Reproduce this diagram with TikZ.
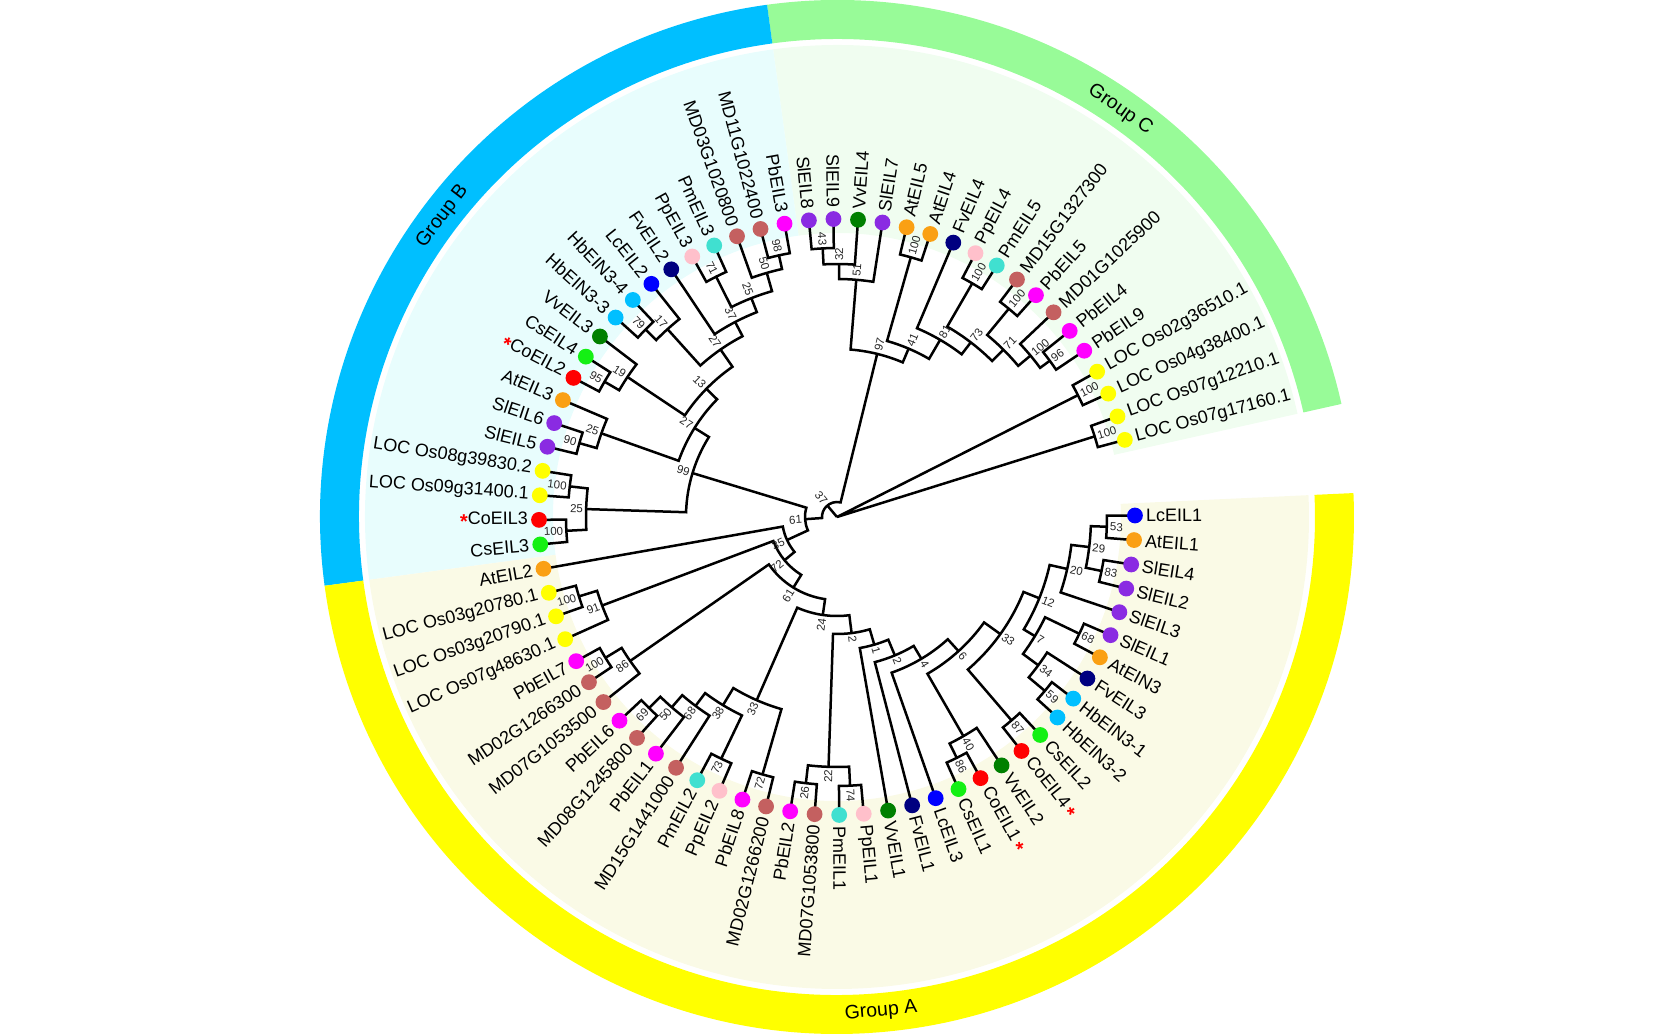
\documentclass[tikz,border=0pt]{standalone}
\usepackage{fontspec}
\setmainfont{Liberation Sans}
\definecolor{cPb}{RGB}{255,0,255}
\definecolor{cMD}{RGB}{196,96,96}
\definecolor{cSl}{RGB}{138,43,226}
\definecolor{cVv}{RGB}{0,128,0}
\definecolor{cAt}{RGB}{250,160,20}
\definecolor{cFv}{RGB}{0,0,128}
\definecolor{cPp}{RGB}{255,192,203}
\definecolor{cPm}{RGB}{64,224,208}
\definecolor{cOs}{RGB}{255,255,0}
\definecolor{cLc}{RGB}{0,0,255}
\definecolor{cHb}{RGB}{0,191,255}
\definecolor{cCs}{RGB}{20,240,20}
\definecolor{cCo}{RGB}{255,0,0}
\definecolor{ringA}{RGB}{255,255,0}
\definecolor{ringB}{RGB}{0,191,255}
\definecolor{ringC}{RGB}{152,251,152}
\definecolor{fillA}{RGB}{250,250,230}
\definecolor{fillB}{RGB}{232,253,253}
\definecolor{fillC}{RGB}{240,253,240}
\newcounter{bsc}
\newcommand\redast{\raisebox{-4pt}{\color{red}\fontsize{20}{20}\selectfont\bfseries *}}
\newcommand\leaf[4]{%
  \node[dot,fill=#3] (d#1) at (#2:298pt) {};
  \pgfmathtruncatemacro\lflip{(#2>90)&&(#2<270)}%
  \ifnum\lflip=1
    \node[lab,anchor=east,rotate=#2+180] (#1) at (#2:309pt) {#4};
  \else
    \node[lab,anchor=west,rotate=#2] (#1) at (#2:309pt) {#4};
  \fi}
\newcommand\bs[3]{%
  \stepcounter{bsc}%
  \pgfmathtruncatemacro\bflip{(#1>90)&&(#1<270)}%
  \pgfmathsetmacro\brad{#2+2.5}%
  \ifnum\bflip=1
    \node[bsl,anchor=east,rotate=#1+180] (b\arabic{bsc}) at (#1:\brad pt) {#3};
  \else
    \node[bsl,anchor=west,rotate=#1] (b\arabic{bsc}) at (#1:\brad pt) {#3};
  \fi}
\newcommand\clade[6]{%
  \draw[br] (#2:#3pt) -- (#2:#1pt) arc[start angle=#2,end angle=#4,radius=#1pt] -- (#4:#5pt);
  \pgfmathsetmacro\cmid{(#2+#4)/2}%
  \bs{\cmid}{#1}{#6}}
\newcommand\sector[5]{% color, a1, a2, rin, rout
  \fill[#1] (#2:#4pt) arc[start angle=#2,end angle=#3,radius=#4pt] -- (#3:#5pt) arc[start angle=#3,end angle=#2,radius=#5pt] -- cycle;}
\begin{document}
\begin{tikzpicture}[x=1pt,y=1pt,
  br/.style={line width=2.5pt,line join=miter,line cap=butt},
  lab/.style={inner sep=0pt,font=\fontsize{18}{18}\selectfont},
  bsl/.style={inner sep=0.5pt,font=\fontsize{11.5}{11.5}\selectfont,text=black!85},
  grp/.style={inner sep=0pt,font=\fontsize{19.5}{19.5}\selectfont},
  dot/.style={circle,inner sep=0pt,minimum size=15.8pt}]
\useasboundingbox (-837,-517) rectangle (837,517);
% background sectors
\sector{fillC}{12.635}{97.775}{284}{472}
\sector{fillB}{97.775}{187.645}{284}{472}
\sector{fillA}{187.645}{362.655}{284}{472}
\sector{ringC}{12.635}{97.775}{478}{517}
\sector{ringB}{97.775}{187.645}{478}{517}
\sector{ringA}{187.645}{362.655}{478}{517}
\node[grp,rotate=-34.8] (gC) at (55.2:496pt) {Group C};
\node[grp,rotate=52.7] (gB) at (142.7:496pt) {Group B};
\node[grp,rotate=5.1] (gA) at (275.1:496pt) {Group A};
% root
\draw[br] (17.37:270pt) -- (0,0) -- (26.83:270pt);
\draw[br] (0,0) -- (130.04:15pt);
\clade{270}{19.73}{298}{15.0}{298}{100}
\clade{270}{29.19}{298}{24.46}{298}{100}
\clade{15}{76.16}{168}{183.92}{32}{37}
% group C
\clade{264}{38.65}{298}{33.92}{298}{96}
\clade{252}{43.38}{298}{36.29}{264}{100}
\clade{270}{52.84}{298}{48.11}{298}{100}
\clade{236}{50.48}{270}{39.83}{252}{71}
\clade{270}{62.30}{298}{57.57}{298}{100}
\clade{220}{59.93}{270}{45.15}{236}{73}
\clade{205}{67.03}{298}{52.54}{220}{81}
\clade{270}{76.49}{298}{71.76}{298}{100}
\clade{183}{74.13}{270}{59.79}{205}{41}
\clade{269}{95.41}{298}{90.68}{298}{43}
\clade{253}{93.05}{269}{85.95}{298}{32}
\clade{238}{89.5}{253}{81.22}{298}{51}
\clade{168}{85.36}{238}{66.96}{183}{97}
% group B
\clade{268}{100.14}{298}{104.87}{298}{98}
\clade{254}{102.5}{268}{109.60}{298}{50}
\clade{269}{114.33}{298}{119.06}{298}{71}
\clade{235}{106.05}{254}{116.7}{269}{25}
\clade{220}{111.37}{235}{123.79}{298}{37}
\clade{268}{133.25}{298}{137.98}{298}{79}
\clade{253}{128.52}{298}{135.6}{268}{17}
\clade{204}{117.58}{220}{132.06}{253}{27}
\clade{269}{147.44}{298}{152.17}{298}{95}
\clade{252}{142.71}{298}{149.8}{269}{19}
\clade{183}{124.82}{204}{146.26}{252}{13}
\clade{268}{161.63}{298}{166.36}{298}{90}
\clade{250}{156.90}{298}{164.0}{268}{25}
\clade{168}{135.54}{183}{160.45}{250}{27}
\clade{269}{171.09}{298}{175.82}{298}{100}
\clade{271}{180.55}{298}{185.28}{298}{100}
\clade{251}{173.46}{269}{182.92}{271}{25}
\clade{151}{148.0}{168}{178.19}{251}{99}
% group A
\clade{270}{194.74}{298}{199.47}{298}{100}
\clade{251}{197.1}{270}{204.20}{298}{91}
\clade{271}{208.93}{298}{213.66}{298}{100}
\clade{252}{211.3}{271}{218.39}{298}{86}
\clade{268}{223.12}{298}{227.85}{298}{69}
\clade{252}{225.49}{268}{232.58}{298}{50}
\clade{236}{229.03}{252}{237.31}{298}{68}
\clade{268}{242.04}{298}{246.77}{298}{73}
\clade{220}{233.17}{236}{244.4}{268}{38}
\clade{268}{251.50}{298}{256.23}{298}{72}
\clade{200}{238.79}{220}{253.87}{268}{33}
\clade{268}{260.96}{298}{265.69}{298}{26}
\clade{269}{270.42}{298}{275.15}{298}{74}
\clade{250}{263.33}{268}{272.79}{269}{22}
\clade{269}{294.07}{298}{298.80}{298}{86}
\clade{253}{296.44}{269}{303.53}{298}{40}
\clade{268}{308.26}{298}{312.99}{298}{87}
\clade{271}{317.72}{298}{322.45}{298}{59}
\clade{250}{320.09}{271}{327.18}{298}{34}
\clade{269}{331.91}{298}{336.64}{298}{68}
\clade{231}{323.63}{250}{334.28}{269}{7}
\clade{270}{346.10}{298}{350.83}{298}{83}
\clade{270}{355.56}{298}{360.29}{298}{53}
\clade{254}{348.47}{270}{357.93}{270}{29}
\clade{236}{341.37}{298}{353.2}{254}{20}
\clade{218}{328.96}{231}{347.28}{236}{12}
\clade{201}{310.63}{268}{338.12}{218}{33}
\clade{181}{299.98}{253}{324.37}{201}{6}
\clade{165}{289.34}{298}{312.18}{181}{4}
\clade{150}{284.61}{298}{300.76}{165}{2}
\clade{133}{279.88}{298}{292.69}{150}{1}
\clade{117}{268.06}{250}{286.28}{133}{2}
\clade{99}{246.33}{200}{277.17}{117}{24}
\clade{83}{214.84}{252}{261.75}{99}{61}
\clade{68}{200.65}{251}{238.3}{83}{72}
\clade{55}{190.01}{298}{219.47}{68}{35}
\clade{32}{163.1}{151}{204.74}{55}{61}
% leaves
\leaf{l1}{15.00}{cOs}{LOC Os07g17160.1}
\leaf{l2}{19.73}{cOs}{LOC Os07g12210.1}
\leaf{l3}{24.46}{cOs}{LOC Os04g38400.1}
\leaf{l4}{29.19}{cOs}{LOC Os02g36510.1}
\leaf{l5}{33.92}{cPb}{PbEIL9}
\leaf{l6}{38.65}{cPb}{PbEIL4}
\leaf{l7}{43.38}{cMD}{MD01G1025900}
\leaf{l8}{48.11}{cPb}{PbEIL5}
\leaf{l9}{52.84}{cMD}{MD15G1327300}
\leaf{l10}{57.57}{cPm}{PmEIL5}
\leaf{l11}{62.30}{cPp}{PpEIL4}
\leaf{l12}{67.03}{cFv}{FvEIL4}
\leaf{l13}{71.76}{cAt}{AtEIL4}
\leaf{l14}{76.49}{cAt}{AtEIL5}
\leaf{l15}{81.22}{cSl}{SlEIL7}
\leaf{l16}{85.95}{cVv}{VvEIL4}
\leaf{l17}{90.68}{cSl}{SlEIL9}
\leaf{l18}{95.41}{cSl}{SlEIL8}
\leaf{l19}{100.14}{cPb}{PbEIL3}
\leaf{l20}{104.87}{cMD}{MD11G1022400}
\leaf{l21}{109.60}{cMD}{MD03G1020800}
\leaf{l22}{114.33}{cPm}{PmEIL3}
\leaf{l23}{119.06}{cPp}{PpEIL3}
\leaf{l24}{123.79}{cFv}{FvEIL2}
\leaf{l25}{128.52}{cLc}{LcEIL2}
\leaf{l26}{133.25}{cHb}{HbEIN3-4}
\leaf{l27}{137.98}{cHb}{HbEIN3-3}
\leaf{l28}{142.71}{cVv}{VvEIL3}
\leaf{l29}{147.44}{cCs}{CsEIL4}
\leaf{l30}{152.17}{cCo}{\redast CoEIL2}
\leaf{l31}{156.90}{cAt}{AtEIL3}
\leaf{l32}{161.63}{cSl}{SlEIL6}
\leaf{l33}{166.36}{cSl}{SlEIL5}
\leaf{l34}{171.09}{cOs}{LOC Os08g39830.2}
\leaf{l35}{175.82}{cOs}{LOC Os09g31400.1}
\leaf{l36}{180.55}{cCo}{\redast CoEIL3}
\leaf{l37}{185.28}{cCs}{CsEIL3}
\leaf{l38}{190.01}{cAt}{AtEIL2}
\leaf{l39}{194.74}{cOs}{LOC Os03g20780.1}
\leaf{l40}{199.47}{cOs}{LOC Os03g20790.1}
\leaf{l41}{204.20}{cOs}{LOC Os07g48630.1}
\leaf{l42}{208.93}{cPb}{PbEIL7}
\leaf{l43}{213.66}{cMD}{MD02G1266300}
\leaf{l44}{218.39}{cMD}{MD07G1053500}
\leaf{l45}{223.12}{cPb}{PbEIL6}
\leaf{l46}{227.85}{cMD}{MD08G1245800}
\leaf{l47}{232.58}{cPb}{PbEIL1}
\leaf{l48}{237.31}{cMD}{MD15G1441000}
\leaf{l49}{242.04}{cPm}{PmEIL2}
\leaf{l50}{246.77}{cPp}{PpEIL2}
\leaf{l51}{251.50}{cPb}{PbEIL8}
\leaf{l52}{256.23}{cMD}{MD02G1266200}
\leaf{l53}{260.96}{cPb}{PbEIL2}
\leaf{l54}{265.69}{cMD}{MD07G1053800}
\leaf{l55}{270.42}{cPm}{PmEIL1}
\leaf{l56}{275.15}{cPp}{PpEIL1}
\leaf{l57}{279.88}{cVv}{VvEIL1}
\leaf{l58}{284.61}{cFv}{FvEIL1}
\leaf{l59}{289.34}{cLc}{LcEIL3}
\leaf{l60}{294.07}{cCs}{CsEIL1}
\leaf{l61}{298.80}{cCo}{CoEIL1\,\redast}
\leaf{l62}{303.53}{cVv}{VvEIL2}
\leaf{l63}{308.26}{cCo}{CoEIL4\,\redast}
\leaf{l64}{312.99}{cCs}{CsEIL2}
\leaf{l65}{317.72}{cHb}{HbEIN3-2}
\leaf{l66}{322.45}{cHb}{HbEIN3-1}
\leaf{l67}{327.18}{cFv}{FvEIL3}
\leaf{l68}{331.91}{cAt}{AtEIN3}
\leaf{l69}{336.64}{cSl}{SlEIL1}
\leaf{l70}{341.37}{cSl}{SlEIL3}
\leaf{l71}{346.10}{cSl}{SlEIL2}
\leaf{l72}{350.83}{cSl}{SlEIL4}
\leaf{l73}{355.56}{cAt}{AtEIL1}
\leaf{l74}{360.29}{cLc}{LcEIL1}
\end{tikzpicture}
\end{document}
